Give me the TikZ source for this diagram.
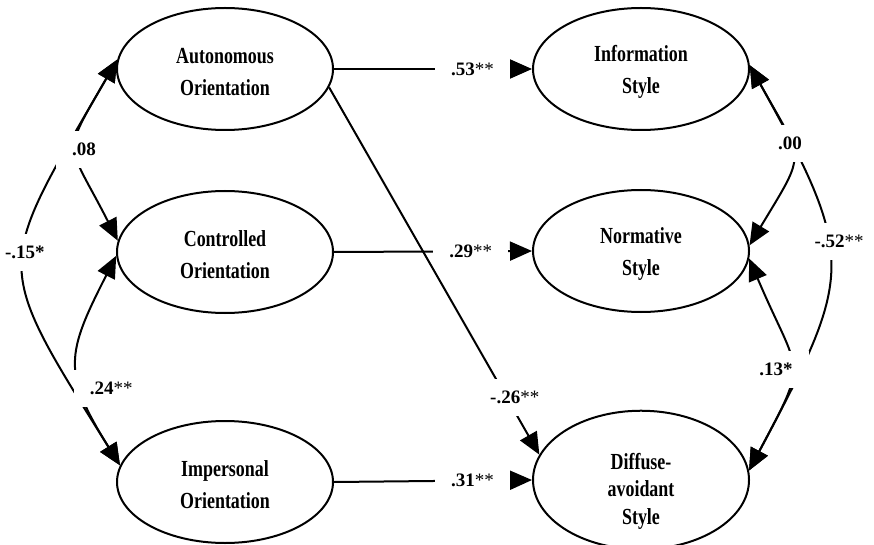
\documentclass[tikz,border=0pt]{standalone}
\usepackage{fontspec}
\setmainfont{Liberation Serif}
\newfontfamily\latentfont{Liberation Serif}[FakeStretch=0.78]
\usetikzlibrary{arrows.meta,shapes.geometric}

\begin{document}
\begin{tikzpicture}[
        x=1pt, y=1pt,
        latent/.style={draw, ellipse, line width=2pt, minimum width=216pt, minimum height=122pt,
            inner sep=0pt, align=center, text height=54pt, font=\latentfont\bfseries\fontsize{23}{32}\selectfont},
        effect/.style={draw, line width=2pt, -{Triangle[length=22pt,width=19pt]}},
        cov/.style={draw, line width=2pt, {Triangle[length=22pt,width=19pt]}-{Triangle[length=22pt,width=19pt]}},
        coef/.style={fill=white, inner xsep=16pt, inner ysep=12pt, font=\bfseries\fontsize{19}{22}\selectfont},
    ]
    \useasboundingbox (0,0) rectangle (874,-545);
    % motivation orientations
    \node[latent](auto) at (225,-69){Autonomous\\Orientation};
    \node[latent](ctrl) at (225,-252){Controlled\\Orientation};
    \node[latent](imp) at (225,-482){Impersonal\\Orientation};
    % identity styles
    \node[latent](info) at (641,-69){Information\\Style};
    \node[latent](norm) at (641,-251){Normative\\Style};
    \node[latent, font=\latentfont\bfseries\fontsize{23}{27.5}\selectfont, text height=93pt](diff) at (641,-480){Diffuse-\\avoidant\\Style};

    % paths
    \draw[effect] (auto.east) -- node[coef, pos=0.70]{.53\textmd{**}} (info.west);
    \draw[effect] (ctrl.east) -- node[coef, pos=0.69]{.29\textmd{**}} (norm.west);
    \draw[effect] (imp.east) -- node[coef, pos=0.70]{.31\textmd{**}} (diff.west);
    \draw[effect] (auto.-10) -- node[coef, pos=0.845, xshift=8pt]{-.26\textmd{**}} (diff.166);

    % correlations, left
    \draw[cov] (auto.175) to[out=240, in=122, looseness=1.54] node[coef, pos=0.46]{-.15*} (imp.171);
    \draw[cov] (auto.175) to[out=240, in=117, looseness=1.6] node[coef, pos=0.5, xshift=7pt]{.08} (ctrl.174);
    \draw[cov] (ctrl.182) to[out=243, in=122, looseness=1.34] node[coef, pos=0.65, xshift=30pt]{.24\textmd{**}} (imp.171);
    % correlations, right
    \draw[cov] (info.2) to[out=299, in=62, looseness=1.4] node[coef, pos=0.42, xshift=12pt]{-.52\textmd{**}} (diff.5);
    \draw[cov] (info.2) to[out=299, in=59, looseness=1.6] node[coef, pos=0.4]{.00} (norm.3);
    \draw[cov] (norm.-4) to[out=293, in=62, looseness=1.57] node[coef, pos=0.52, xshift=-15pt]{.13*} (diff.5);
\end{tikzpicture}
\end{document}
